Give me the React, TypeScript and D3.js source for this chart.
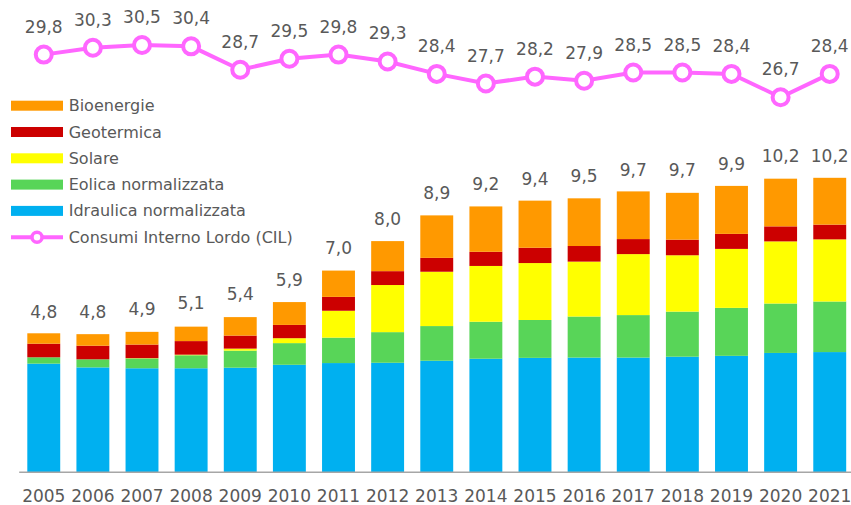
import React from 'react';
import * as d3 from 'd3';

const years = ['2005','2006','2007','2008','2009','2010','2011','2012','2013','2014','2015','2016','2017','2018','2019','2020','2021'];

const idraulica = [3.76, 3.63, 3.6, 3.6, 3.62, 3.72, 3.78, 3.79, 3.86, 3.93, 3.96, 3.97, 3.97, 4.0, 4.03, 4.13, 4.16];
const eolica = [0.22, 0.28, 0.34, 0.45, 0.59, 0.75, 0.88, 1.06, 1.2, 1.28, 1.31, 1.42, 1.47, 1.56, 1.66, 1.71, 1.75];
const solare = [0.0, 0.0, 0.01, 0.02, 0.07, 0.17, 0.93, 1.63, 1.88, 1.93, 1.97, 1.9, 2.11, 1.95, 2.04, 2.15, 2.15];
const geotermica = [0.47, 0.47, 0.47, 0.47, 0.45, 0.46, 0.48, 0.48, 0.48, 0.49, 0.53, 0.54, 0.52, 0.54, 0.52, 0.52, 0.51];
const bioenergie = [0.36, 0.4, 0.44, 0.5, 0.64, 0.79, 0.91, 1.04, 1.47, 1.57, 1.63, 1.65, 1.65, 1.62, 1.66, 1.65, 1.62];

const totali = [4.8, 4.8, 4.9, 5.1, 5.4, 5.9, 7.0, 8.0, 8.9, 9.2, 9.4, 9.5, 9.7, 9.7, 9.9, 10.2, 10.2];
const cil = [29.8, 30.3, 30.5, 30.4, 28.7, 29.5, 29.8, 29.3, 28.4, 27.7, 28.2, 27.9, 28.5, 28.5, 28.4, 26.7, 28.4];

const series = [
  { key: 'idraulica', label: 'Idraulica normalizzata', color: '#00B0F0', values: idraulica },
  { key: 'eolica', label: 'Eolica normalizzata', color: '#58D558', values: eolica },
  { key: 'solare', label: 'Solare', color: '#FFFF00', values: solare },
  { key: 'geotermica', label: 'Geotermica', color: '#CC0000', values: geotermica },
  { key: 'bioenergie', label: 'Bioenergie', color: '#FF9900', values: bioenergie },
];

const W = 851;
const H = 505;
const txt = '#595959';
const pink = '#FF66FF';
const font = 'DejaVu Sans, Verdana, sans-serif';
const fmt = (v: number) => v.toFixed(1).replace('.', ',');

export default function App() {
  const rows = years.map((y, i) => {
    const r: any = { year: y };
    series.forEach((s) => (r[s.key] = s.values[i]));
    return r;
  });
  const stacked = d3.stack().keys(series.map((s) => s.key))(rows);

  const x = d3.scaleBand().domain(years).range([19.2, 854.3]).paddingInner(0.33).paddingOuter(0.165);
  const y = d3.scaleLinear().domain([0, 10]).range([472.3, 183.3]);
  const yl = d3.scaleLinear().domain([26, 31]).range([106.9, 38.1]);
  const cx = (yr: string) => (x(yr) as number) + x.bandwidth() / 2;

  const line = d3.line<number>()
    .x((d, i) => cx(years[i]))
    .y((d) => yl(d));

  // legend, top to bottom
  const legend = [...series].reverse();

  return (
    <svg width={W} height={H} style={{ position: 'absolute', left: 0, top: 0, background: '#fff' }} fontFamily={font}>
      {stacked.map((layer, li) => (
        <g key={layer.key} fill={series[li].color}>
          {layer.map((d, i) => (
            <rect key={i} x={x(years[i])} y={y(d[1])} width={x.bandwidth()} height={Math.max(0, y(d[0]) - y(d[1]))} />
          ))}
        </g>
      ))}

      {totali.map((t, i) => (
        <text key={i} x={cx(years[i])} y={y(t) - 16} textAnchor="middle" fontSize={17} fill={txt}>{fmt(t)}</text>
      ))}

      <line x1={19.2} x2={W} y1={472.3} y2={472.3} stroke="#A6A6A6" strokeWidth={1.5} />
      {years.map((yr) => (
        <text key={yr} x={cx(yr)} y={501.5} textAnchor="middle" fontSize={17} fill={txt}>{yr}</text>
      ))}

      <path d={line(cil) || ''} fill="none" stroke={pink} strokeWidth={4} />
      {cil.map((v, i) => (
        <g key={i}>
          <circle cx={cx(years[i])} cy={yl(v)} r={8} fill="#fff" stroke={pink} strokeWidth={4} />
          <text x={cx(years[i])} y={yl(v) - 22} textAnchor="middle" fontSize={17} fill={txt}>{fmt(v)}</text>
        </g>
      ))}

      {legend.map((s, i) => (
        <g key={s.key} transform={`translate(0,${105.7 + i * 26.3})`}>
          <rect x={11} y={-5} width={52} height={10} fill={s.color} />
          <text x={68.7} y={5.5} fontSize={16} fill={txt}>{s.label}</text>
        </g>
      ))}
      <g transform={`translate(0,${105.7 + 5 * 26.3})`}>
        <line x1={11} x2={63} stroke={pink} strokeWidth={4} />
        <circle cx={37} cy={0} r={5} fill="#fff" stroke={pink} strokeWidth={3.5} />
        <text x={68.7} y={5.5} fontSize={16} fill={txt}>Consumi Interno Lordo (CIL)</text>
      </g>
    </svg>
  );
}
